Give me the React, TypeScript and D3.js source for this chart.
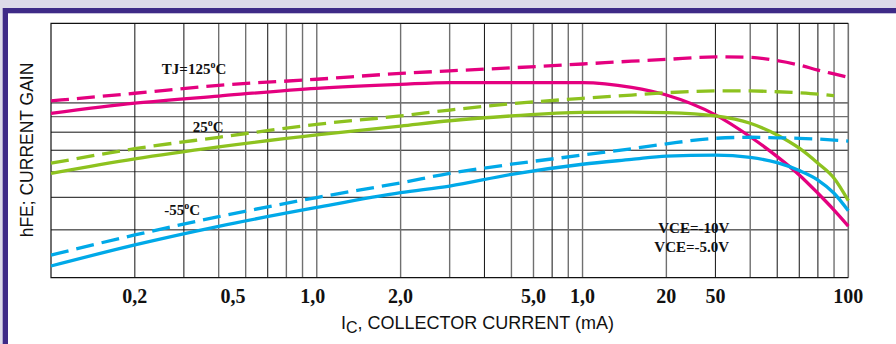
import { useEffect, useRef } from "react";
import * as d3 from "d3";

// collector current (mA) where the curves were read
const currentMA = [0.1, 0.2, 0.4, 1, 2, 3, 5, 10, 15, 20, 30, 40, 50, 60, 70, 80, 90];

// relative hFE (0..100 of the plot height), dashed = VCE -10V, solid = VCE -5.0V
const hfe125_10V = [69.5, 72.5, 75.6, 78.0, 80.3, 81.3, 82.5, 84.0, 85.1, 85.8, 86.8, 86.6, 85.3, 83.6, 81.6, 80.1, 78.8];
const hfe125_5V = [64.6, 68.6, 71.4, 74.4, 76.0, 76.7, 76.7, 76.7, 74.8, 71.8, 64.0, 55.4, 47.6, 40.4, 33.2, 26.6, 20.3];
const hfe25_10V = [45.0, 50.7, 55.2, 60.3, 63.6, 65.9, 68.4, 70.5, 71.8, 72.7, 73.4, 73.4, 73.1, 72.7, 72.2, 71.5, null];
const hfe25_5V = [41.0, 46.7, 51.4, 56.1, 59.6, 61.7, 63.6, 65.0, 65.1, 64.9, 63.6, 60.7, 56.1, 50.9, 45.0, 39.1, 30.3];
const hfeM55_10V = [8.9, 16.8, 24.0, 31.5, 37.3, 41.0, 44.6, 48.2, 50.7, 52.6, 54.8, 55.2, 55.0, 54.8, 54.5, 54.1, 53.7];
const hfeM55_5V = [4.6, 12.9, 20.2, 27.6, 33.4, 36.0, 40.6, 44.6, 46.5, 47.8, 48.2, 47.3, 45.2, 42.1, 38.4, 33.2, 26.3];

// grid
const gridX = [0.2, 0.3, 0.4, 0.5, 0.6, 0.7, 0.8, 1, 2, 3, 4, 5, 6, 7, 8, 10, 20, 30, 40, 50, 60, 70, 80];
const grayX = [0.4, 0.5, 0.7, 0.8, 1, 2, 3, 5, 6, 8, 10, 20, 40, 80];
const gridY = [68.7, 63.3, 57.2, 50.1, 41.7, 31.6, 18.8];
const grayY = [63.3, 41.7];

// tick labels as printed on the chart
const tickValues = [0.2, 0.45, 0.87, 2, 6, 10, 20, 30, 90];
const tickLabels = ["0,2", "0,5", "1,0", "2,0", "5,0", "1,0", "20", "50", "100"];

export default function App() {
  const ref = useRef<SVGSVGElement>(null);

  useEffect(() => {
    const width = 896;
    const height = 344;
    const svg = d3.select(ref.current).attr("width", width).attr("height", height);
    svg.selectAll("*").remove();

    // frame
    svg.append("rect").attr("width", width).attr("height", height).attr("fill", "#dddae9");
    svg.append("rect").attr("x", 2.7).attr("y", 8).attr("width", width).attr("height", height).attr("fill", "#3e2a87");
    svg.append("rect").attr("x", 8).attr("y", 13.3).attr("width", width).attr("height", height).attr("fill", "#ffffff");

    const left = 51, right = 848.3, top = 23.3, bottom = 277.7;
    const dec = (right - left) / 3;

    // each decade's 1..9 lines fill the whole decade, so 0.9 sits on 1 and 9 on 10
    const x = d3
      .scaleLog()
      .domain([0.1, 0.9, 1, 9, 10, 90])
      .range([left, left + dec, left + dec, left + 2 * dec, left + 2 * dec, right]);
    const y = d3.scaleLinear().domain([0, 100]).range([bottom, top]);

    const g = svg.append("g");
    gridY.forEach((v) => {
      g.append("line")
        .attr("x1", left).attr("x2", right)
        .attr("y1", y(v)).attr("y2", y(v))
        .attr("stroke", grayY.includes(v) ? "#707070" : "#111")
        .attr("stroke-width", grayY.includes(v) ? 1.4 : 1);
    });
    gridX.forEach((v) => {
      g.append("line")
        .attr("x1", x(v)).attr("x2", x(v))
        .attr("y1", top).attr("y2", bottom)
        .attr("stroke", grayX.includes(v) ? "#707070" : "#111")
        .attr("stroke-width", grayX.includes(v) ? 1.4 : 1);
    });
    g.append("line").attr("x1", right).attr("x2", right).attr("y1", top).attr("y2", bottom)
      .attr("stroke", "#707070").attr("stroke-width", 1.6);
    g.append("path")
      .attr("d", `M${right},${top}H${left}V${bottom}H${right}`)
      .attr("fill", "none").attr("stroke", "#111").attr("stroke-width", 1.2);

    // curves
    const series = [
      { values: hfe125_10V, color: "#e4007f", dashed: true },
      { values: hfe125_5V, color: "#e4007f", dashed: false },
      { values: hfe25_10V, color: "#8dc21f", dashed: true },
      { values: hfe25_5V, color: "#8dc21f", dashed: false },
      { values: hfeM55_10V, color: "#00a9e8", dashed: true },
      { values: hfeM55_5V, color: "#00a9e8", dashed: false },
    ];
    const line = d3
      .line<number | null>()
      .defined((d) => d != null)
      .x((_, i) => x(currentMA[i]))
      .y((d) => y(d as number))
      .curve(d3.curveMonotoneX);

    series.forEach((s) => {
      svg.append("path")
        .datum(s.values)
        .attr("fill", "none")
        .attr("stroke", s.color)
        .attr("stroke-width", 3.3)
        .attr("stroke-dasharray", s.dashed ? "18 8" : null)
        .attr("d", line);
    });

    // curve labels
    const serif = "'Liberation Serif', 'Times New Roman', serif";
    const tempLabels = [
      { pre: "TJ=125", at: [0.25, 80.1] },
      { pre: "25", at: [0.323, 57.4] },
      { pre: "-55", at: [0.255, 24.6] },
    ];
    tempLabels.forEach((l) => {
      const t = svg.append("text")
        .attr("x", x(l.at[0])).attr("y", y(l.at[1]))
        .attr("font-family", serif).attr("font-weight", "bold")
        .attr("font-size", 15).attr("fill", "#111");
      t.append("tspan").text(l.pre);
      t.append("tspan").attr("dy", -6).attr("font-size", 10).text("o");
      t.append("tspan").attr("dy", 6).text("C");
    });
    const vceLabels = [
      { text: "VCE=-10V", at: [18.7, 17.5] },
      { text: "VCE=-5.0V", at: [18.1, 10.2] },
    ];
    vceLabels.forEach((l) => {
      svg.append("text")
        .attr("x", x(l.at[0])).attr("y", y(l.at[1]))
        .attr("font-family", serif).attr("font-weight", "bold")
        .attr("font-size", 15).attr("fill", "#111")
        .text(l.text);
    });

    // x tick labels
    tickValues.forEach((v, i) => {
      svg.append("text")
        .attr("x", x(v)).attr("y", 302.5)
        .attr("text-anchor", "middle")
        .attr("font-family", serif).attr("font-weight", "bold")
        .attr("font-size", 20).attr("fill", "#111")
        .text(tickLabels[i]);
    });

    // axis titles
    const sans = "'Liberation Sans', Arial, sans-serif";
    const xt = svg.append("text")
      .attr("x", 341).attr("y", 329)
      .attr("font-family", sans).attr("font-size", 18).attr("fill", "#111");
    xt.append("tspan").text("I");
    xt.append("tspan").attr("dy", 4).attr("font-size", 16).text("C");
    xt.append("tspan").attr("dy", -4).text(", COLLECTOR CURRENT (mA)");

    svg.append("text")
      .attr("transform", "translate(33,150) rotate(-90)")
      .attr("text-anchor", "middle")
      .attr("font-family", sans).attr("font-size", 17.5).attr("fill", "#111")
      .text("hFE; CURRENT GAIN");
  }, []);

  return <svg ref={ref} style={{ position: "absolute", left: 0, top: 0, display: "block" }}></svg>;
}
